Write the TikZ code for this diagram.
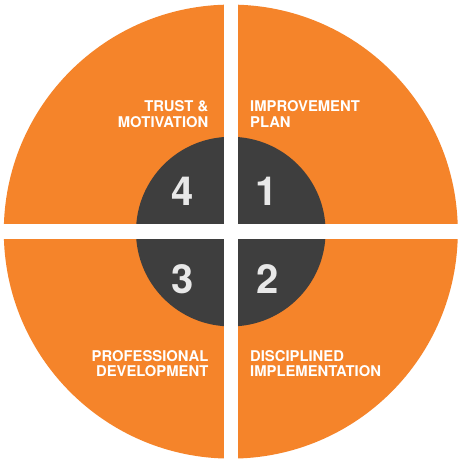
\documentclass[tikz,border=0pt]{standalone}
\usepackage{fontspec}
\setmainfont{TeX Gyre Heros}
\definecolor{quadorange}{HTML}{F5842A}
\definecolor{hubgray}{HTML}{3E3E3E}
\definecolor{digitgray}{HTML}{E8E8E8}
\begin{document}
\begin{tikzpicture}[x=1pt,y=-1pt,
  lbl/.style={inner sep=0pt,text=white,font=\bfseries\fontsize{14.8}{15.6}\selectfont},
  digit/.style={inner sep=0pt,text=digitgray,font=\bfseries\fontsize{40}{40}\selectfont}]
\path[use as bounding box,fill=white] (0,0) rectangle (458,459);
\coordinate (c) at (230.8,231.6);
\fill[quadorange] (c) circle[radius=227];
\fill[hubgray] (c) circle[radius=94.8];
\fill[white] (223.5,0) rectangle (238.2,459);
\fill[white] (0,224.3) rectangle (458,239);
\node[lbl,align=right,anchor=north east] (trust) at (208.5,100.5) {TRUST \&\\MOTIVATION};
\node[lbl,align=left,anchor=north west] (plan) at (250,100.5) {IMPROVEMENT\\PLAN};
\node[lbl,align=right,anchor=north east] (prof) at (208.5,350) {PROFESSIONAL\\DEVELOPMENT};
\node[lbl,align=left,anchor=north west] (disc) at (250,350) {DISCIPLINED\\IMPLEMENTATION};
\node[digit] (n4) at (183,191) {4};
\node[digit] (n1) at (267,191) {1};
\node[digit] (n3) at (183,279) {3};
\node[digit] (n2) at (268,279) {2};
\end{tikzpicture}
\end{document}
